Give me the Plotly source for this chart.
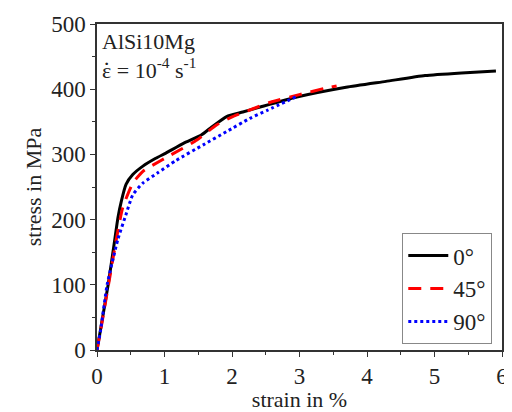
import plotly.graph_objects as go

strain_0 = [0.0, 0.05, 0.165, 0.26, 0.31, 0.36, 0.43, 0.53, 0.68, 0.87, 1.02, 1.28, 1.55, 1.70, 1.92, 2.16, 2.43, 2.96, 3.69, 4.28, 4.86, 5.40, 5.91]
stress_0 = [0, 30, 100, 167, 203, 228, 254, 269, 282, 294, 302, 317, 330, 342, 358, 365, 373, 388, 403, 412, 421, 425, 428]

strain_45 = [0.0, 0.05, 0.17, 0.29, 0.38, 0.53, 0.68, 0.80, 1.09, 1.48, 1.77, 2.01, 2.31, 2.57, 3.01, 3.40, 3.55]
stress_45 = [0, 28, 100, 172, 218, 256, 274, 282, 299, 322, 345, 358, 370, 380, 392, 402, 405]

strain_90 = [0.0, 0.05, 0.15, 0.31, 0.43, 0.53, 0.68, 0.89, 1.16, 1.58, 1.92, 2.26, 2.53, 2.96]
stress_90 = [0, 28, 100, 170, 208, 238, 256, 271, 290, 315, 335, 355, 368, 389]

labels = ["0°", "45°", "90°"]

FONT = "Liberation Serif"
TXT = "#222222"

fig = go.Figure()
fig.add_trace(go.Scatter(x=strain_0, y=stress_0, mode="lines", name=labels[0],
                         line=dict(color="black", width=3, shape="spline", smoothing=0.5)))
fig.add_trace(go.Scatter(x=strain_45, y=stress_45, mode="lines", name=labels[1],
                         line=dict(color="#ff0000", width=3, dash="13px,9px", shape="spline", smoothing=0.5)))
fig.add_trace(go.Scatter(x=strain_90, y=stress_90, mode="lines", name=labels[2],
                         line=dict(color="#0000ff", width=3, dash="dot", shape="spline", smoothing=0.5)))

axis_common = dict(
    showgrid=False, zeroline=False, showline=True, linecolor="#333333", linewidth=1.5,
    mirror=True, ticks="outside", ticklen=5, tickwidth=1.2, tickcolor="#333333",
    tickfont=dict(family=FONT, size=23, color=TXT),
)

fig.update_xaxes(range=[0, 6], dtick=1, tick0=0,
                 minor=dict(dtick=0.5, ticks="outside", ticklen=3, tickcolor="#333333", tickwidth=1.2),
                 title=dict(text="strain in %", font=dict(family=FONT, size=22, color=TXT), standoff=3),
                 **axis_common)
fig.update_yaxes(range=[0, 500], dtick=100, tick0=0,
                 minor=dict(dtick=50, ticks="outside", ticklen=3, tickcolor="#333333", tickwidth=1.2),
                 title=dict(text="stress in MPa", font=dict(family=FONT, size=22, color=TXT), standoff=3),
                 **axis_common)

fig.add_annotation(xref="paper", yref="paper", x=0.008, y=0.99, xanchor="left", yanchor="top",
                   text="AlSi10Mg<br>ε = 10<sup>-4</sup> s<sup>-1</sup>", align="left", showarrow=False,
                   font=dict(family=FONT, size=22, color=TXT))
fig.add_annotation(xref="paper", yref="paper", x=0.0236, y=0.879, xanchor="center", yanchor="middle",
                   text="·", showarrow=False, font=dict(family=FONT, size=22, color=TXT))

fig.update_layout(
    width=504, height=404,
    margin=dict(l=89, r=4, t=13, b=62),
    paper_bgcolor="white", plot_bgcolor="white",
    font=dict(family=FONT, size=22, color=TXT),
    showlegend=True,
    legend=dict(x=0.976, y=0.018, xanchor="right", yanchor="bottom",
                bordercolor="#888888", borderwidth=1, bgcolor="white",
                font=dict(family=FONT, size=23, color=TXT),
                itemwidth=40, tracegroupgap=0),
)

fig.write_html("out.html")
